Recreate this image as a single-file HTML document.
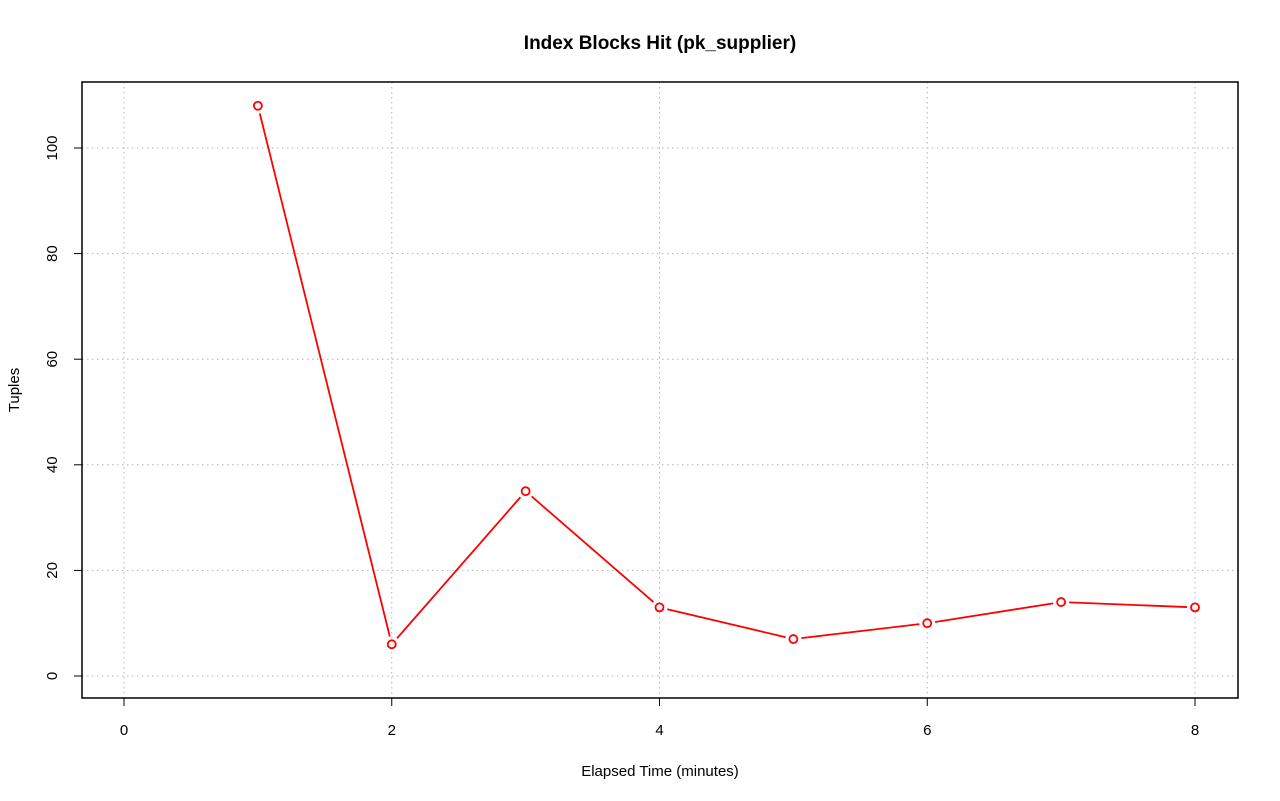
<!DOCTYPE html>
<html><head><meta charset="utf-8"><style>body{margin:0;background:#fff}svg{display:block;font-family:"Liberation Sans",sans-serif}</style></head>
<body>
<svg id="c" width="1280" height="801">
<text x="660" y="49" text-anchor="middle" font-weight="bold" font-size="19">Index Blocks Hit (pk_supplier)</text>
<text x="660" y="776" text-anchor="middle" font-size="15">Elapsed Time (minutes)</text>
<text transform="translate(19,390) rotate(-90)" text-anchor="middle" font-size="15">Tuples</text>
<g id="grid"></g>
<g id="axes"></g>
<g id="series"></g>
<rect x="82" y="82" width="1156" height="616" fill="none" stroke="#000" stroke-width="1.5"/>
</svg>
<script>
const xValues=[1,2,3,4,5,6,7,8];
const yValues=[108,6,35,13,7,10,14,13];
const xTicks=[0,2,4,6,8];
const yTicks=[0,20,40,60,80,100];
const NS="http://www.w3.org/2000/svg";
const sx=v=>124+v*(1195-124)/8;
const sy=v=>676-v*(676-148)/100;
function mk(t,a,p){const e=document.createElementNS(NS,t);for(const k in a)e.setAttribute(k,a[k]);p.appendChild(e);return e;}
const g=document.getElementById('grid'),ax=document.getElementById('axes'),s=document.getElementById('series');
xTicks.forEach(v=>{
 const l=mk('line',{x1:sx(v),x2:sx(v),y1:82,y2:698,stroke:'#b4b4b4','stroke-dasharray':'1.5,3.5'},g);
 
 const t=mk('line',{x1:sx(v),x2:sx(v),y1:698,y2:706,stroke:'#000'},ax);
 
 const tx=mk('text',{x:sx(v),y:735,'text-anchor':'middle','font-size':'15'},ax);tx.textContent=v;
 
});
yTicks.forEach(v=>{
 const l=mk('line',{x1:82,x2:1238,y1:sy(v),y2:sy(v),stroke:'#b4b4b4','stroke-dasharray':'1.5,3.5'},g);
 
 const t=mk('line',{x1:74,x2:82,y1:sy(v),y2:sy(v),stroke:'#000'},ax);
 
 const tx=mk('text',{transform:`translate(57,${sy(v)}) rotate(-90)`,'text-anchor':'middle','font-size':'15'},ax);tx.textContent=v;
 
});
const gap=8;
for(let i=0;i<xValues.length-1;i++){
 const x1=sx(xValues[i]),y1=sy(yValues[i]),x2=sx(xValues[i+1]),y2=sy(yValues[i+1]);
 const d=Math.hypot(x2-x1,y2-y1),ux=(x2-x1)/d,uy=(y2-y1)/d;
 const seg=mk('line',{x1:x1+ux*gap,y1:y1+uy*gap,x2:x2-ux*gap,y2:y2-uy*gap,stroke:'#f00','stroke-width':'1.8'},s);
 
}
xValues.forEach((x,i)=>{
 const c=mk('circle',{cx:sx(x),cy:sy(yValues[i]),r:4,fill:'#fff',stroke:'#f00','stroke-width':'1.8'},s);
 
});
</script>
</body></html>
